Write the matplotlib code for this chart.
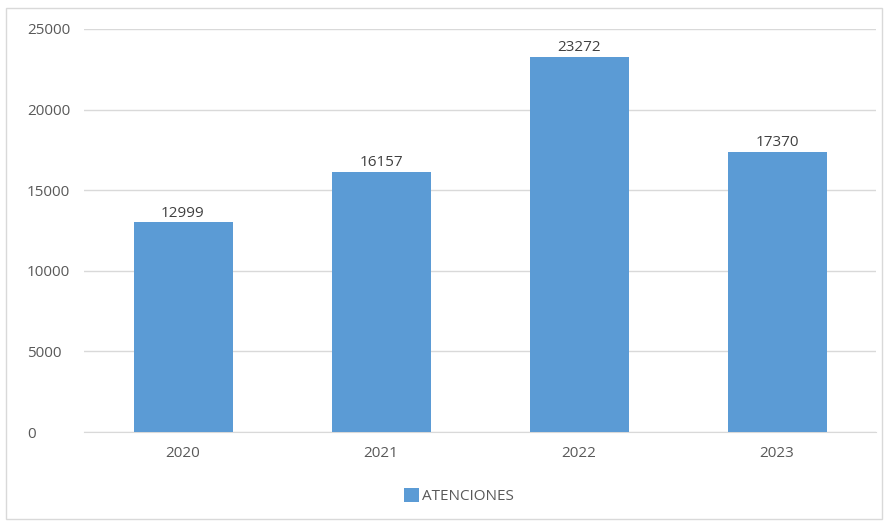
import matplotlib
matplotlib.use("Agg")
import matplotlib.pyplot as plt
from matplotlib.patches import Rectangle

years = ["2020", "2021", "2022", "2023"]
atenciones = [12999, 16157, 23272, 17370]
yticks = [0, 5000, 10000, 15000, 20000, 25000]

plt.rcParams['font.family'] = ['Open Sans', 'DejaVu Sans']
fig = plt.figure(figsize=(8.86, 5.25), dpi=100)
fig.patches.append(Rectangle((6/886, 1-519/525), 876/886, 511/525, transform=fig.transFigure,
                             fill=False, edgecolor='#d9d9d9', linewidth=1))
ax = fig.add_axes([84/886, 1-432/525, 792/886, 403/525])
x = range(len(years))
bars = ax.bar(x, atenciones, width=0.5, color='#5B9BD5', label='ATENCIONES', zorder=3)
for xi, v in zip(x, atenciones):
    ax.text(xi, v + 120, str(v), ha='center', va='bottom', fontsize=11, color='#404040')
ax.set_xlim(-0.5, 3.5)
ax.set_ylim(0, 25000)
ax.set_yticks(yticks)
ax.set_yticklabels([str(t) for t in yticks], ha='left')
ax.set_xticks(list(x))
ax.set_xticklabels(years)
ax.tick_params(axis='both', length=0, colors='#595959', labelsize=11)
ax.tick_params(axis='y', pad=41)
ax.tick_params(axis='x', pad=10)
ax.yaxis.grid(True, color='#d9d9d9', linewidth=1, zorder=0)
for s in ['top', 'right', 'left']:
    ax.spines[s].set_visible(False)
ax.spines['bottom'].set_color('#d9d9d9')
leg = fig.legend(handles=[bars], labels=['ATENCIONES'], loc='center', bbox_to_anchor=(459/886, 1-496/525),
                 frameon=False, fontsize=11, handlelength=1.0, handleheight=1.0, handletextpad=0.2)
for t in leg.get_texts():
    t.set_color('#595959')
fig.savefig('out.png', dpi=100)
